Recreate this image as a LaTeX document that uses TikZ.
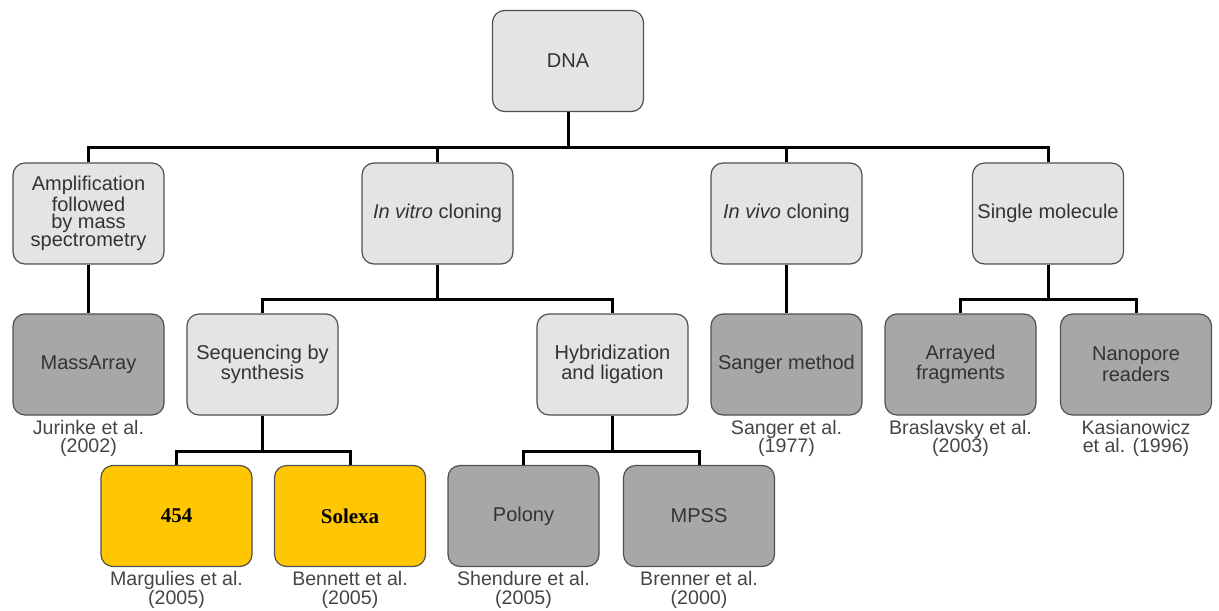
\documentclass[tikz,border=0pt]{standalone}
\usepackage{fontspec}
\setmainfont{Liberation Sans}
\newfontfamily\timesfont{Liberation Serif}
\definecolor{boxlight}{HTML}{E4E4E4}
\definecolor{boxdark}{HTML}{A7A7A7}
\definecolor{boxgold}{HTML}{FFC602}
\definecolor{boxline}{HTML}{505050}
\definecolor{boxtext}{HTML}{333333}
\definecolor{citetext}{HTML}{454545}

\begin{document}
\begin{tikzpicture}[x=0.5pt,y=-0.5pt,
  every node/.style={font=\fontsize{10}{8.7}\selectfont},
  link/.style={line width=1.5pt}]
\tikzstyle{box}=[draw=boxline,line width=0.6pt,rounded corners=6pt,
  minimum width=75.5pt,minimum height=50.5pt,inner sep=2pt,align=center,text=boxtext]
\tikzstyle{light box}=[box,fill=boxlight]
\tikzstyle{dark box}=[box,fill=boxdark]
\tikzstyle{gold box}=[box,fill=boxgold,text=black,
  font=\timesfont\bfseries\fontsize{10.5}{10}\selectfont]
\tikzstyle{cite}=[anchor=north,inner sep=0pt,yshift=-2pt,align=center,text=citetext,
  font=\fontsize{9.8}{9.2}\selectfont]
\useasboundingbox (0,0) rectangle (1219,610);

\node[light box] (dna) at (568,61) {DNA};

\node[light box] (amp) at (88.5,213.5) {Amplification\\followed\\by mass\\spectrometry};
\node[light box] (vitro) at (437.5,213.5) {\textit{In vitro} cloning};
\node[light box] (vivo) at (786.5,213.5) {\textit{In vivo} cloning};
\node[light box] (single) at (1048,213.5) {Single molecule};

\node[dark box] (massarray) at (88.5,364.5) {MassArray};
\node[light box] (synth) at (262.5,364.5) {Sequencing by\\synthesis};
\node[light box] (hybrid) at (612.5,364.5) {Hybridization\\and ligation};
\node[dark box] (sanger) at (786.5,364.5) {Sanger method};
\node[dark box] (arrayed) at (960.5,364.5) {Arrayed\\fragments};
\node[dark box] (nanopore) at (1136,364.5) {Nanopore\\readers};

\node[gold box] (fourfivefour) at (176.5,516) {454};
\node[gold box] (solexa) at (350,516) {Solexa};
\node[dark box] (polony) at (523.5,516) {Polony};
\node[dark box] (mpss) at (699,516) {MPSS};

\node[cite] at (massarray.south) {Jurinke et al.\\(2002)};
\node[cite] at (sanger.south) {Sanger et al.\\(1977)};
\node[cite] at (arrayed.south) {Braslavsky et al.\\(2003)};
\node[cite] at (nanopore.south) {Kasianowicz\\et al. (1996)};
\node[cite] at (fourfivefour.south) {Margulies et al.\\(2005)};
\node[cite] at (solexa.south) {Bennett et al.\\(2005)};
\node[cite] at (polony.south) {Shendure et al.\\(2005)};
\node[cite] at (mpss.south) {Brenner et al.\\(2000)};

\draw[link] (dna.south) |- ([yshift=7.5pt]amp.north) -- (amp.north);
\draw[link] (dna.south) |- ([yshift=7.5pt]vitro.north) -- (vitro.north);
\draw[link] (dna.south) |- ([yshift=7.5pt]vivo.north) -- (vivo.north);
\draw[link] (dna.south) |- ([yshift=7.5pt]single.north) -- (single.north);

\draw[link] (amp.south) -- (massarray.north);
\draw[link] (vitro.south) |- ([yshift=7pt]synth.north) -- (synth.north);
\draw[link] (vitro.south) |- ([yshift=7pt]hybrid.north) -- (hybrid.north);
\draw[link] (vivo.south) -- (sanger.north);
\draw[link] (single.south) |- ([yshift=7pt]arrayed.north) -- (arrayed.north);
\draw[link] (single.south) |- ([yshift=7pt]nanopore.north) -- (nanopore.north);

\draw[link] (synth.south) |- ([yshift=6.5pt]fourfivefour.north) -- (fourfivefour.north);
\draw[link] (synth.south) |- ([yshift=6.5pt]solexa.north) -- (solexa.north);
\draw[link] (hybrid.south) |- ([yshift=6.5pt]polony.north) -- (polony.north);
\draw[link] (hybrid.south) |- ([yshift=6.5pt]mpss.north) -- (mpss.north);
\end{tikzpicture}
\end{document}
